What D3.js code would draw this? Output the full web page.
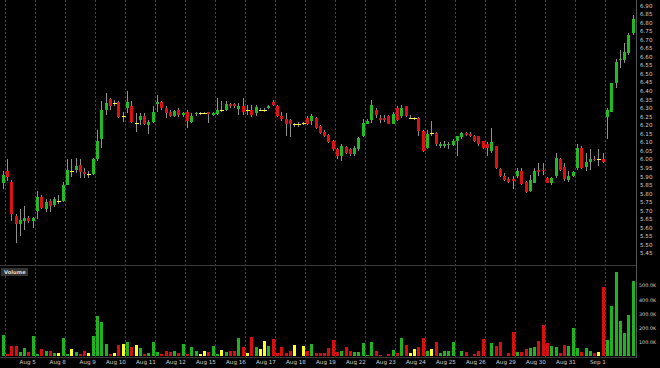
<!DOCTYPE html>
<html>
<head>
<meta charset="utf-8">
<script src="https://cdn.jsdelivr.net/npm/d3@7"></script>
<style>
  body { margin: 0; background: #000; }
  svg { display: block; }
</style>
</head>
<body>
<div id="chart"></div>
<script>
// hourly bars, 7 per session (bar 0 is the last bar of the previous session)
const opens = [5.86,5.935,5.87,5.67,5.62,5.64,5.655,5.64,5.70,5.78,5.71,5.755,5.735,5.76,5.76,5.85,5.93,5.94,5.97,5.925,
  5.915,5.915,6.00,6.12,6.29,6.355,6.33,6.335,6.255,6.30,6.315,6.215,6.23,6.255,6.20,6.22,6.325,6.335,6.30,6.28,
  6.255,6.29,6.26,6.28,6.22,6.265,6.27,6.27,6.275,6.26,6.265,6.29,6.29,6.325,6.325,6.295,6.315,6.29,6.29,6.27,
  6.29,6.29,6.30,6.335,6.31,6.255,6.235,6.23,6.205,6.21,6.215,6.245,6.225,6.245,6.195,6.16,6.145,6.11,6.06,6.02,
  6.075,6.06,6.03,6.06,6.135,6.21,6.233,6.29,6.245,6.24,6.255,6.21,6.30,6.257,6.31,6.243,6.24,6.243,6.165,6.068,
  6.155,6.155,6.08,6.08,6.085,6.083,6.106,6.13,6.155,6.15,6.14,6.135,6.106,6.09,6.05,6.077,5.945,5.905,5.883,5.885,
  5.905,5.93,5.867,5.815,5.865,5.94,5.94,5.89,5.865,5.905,6.00,5.957,5.88,5.905,5.95,6.068,5.957,5.985,6.005,6.00,
  6.005,6.25,6.28,6.447,6.58,6.58,6.62,6.738];
const highs = [5.93,6.00,5.88,5.68,5.71,5.73,5.67,5.665,5.815,5.79,5.77,5.77,5.78,5.79,5.87,6.00,6.00,6.01,6.00,5.95,
  5.93,6.01,6.17,6.34,6.39,6.36,6.35,6.34,6.28,6.40,6.34,6.27,6.27,6.27,6.23,6.31,6.38,6.34,6.31,6.29,
  6.29,6.30,6.28,6.29,6.27,6.275,6.28,6.28,6.28,6.28,6.36,6.34,6.34,6.33,6.33,6.33,6.36,6.32,6.32,6.32,
  6.30,6.30,6.32,6.35,6.32,6.28,6.27,6.235,6.215,6.22,6.22,6.255,6.265,6.25,6.20,6.17,6.15,6.115,6.07,6.09,
  6.08,6.07,6.08,6.13,6.235,6.235,6.345,6.30,6.26,6.26,6.26,6.28,6.31,6.32,6.315,6.26,6.25,6.25,6.17,6.175,
  6.225,6.16,6.10,6.11,6.105,6.12,6.14,6.16,6.16,6.16,6.145,6.14,6.11,6.10,6.185,6.08,5.95,5.92,5.895,5.905,
  5.95,5.95,5.875,5.91,5.95,5.98,5.98,5.90,5.90,6.04,6.01,5.98,5.93,5.93,6.09,6.08,6.04,6.06,6.02,6.06,
  6.04,6.30,6.45,6.59,6.64,6.68,6.74,6.845];
const lows = [5.83,5.875,5.64,5.51,5.55,5.59,5.63,5.60,5.65,5.71,5.69,5.69,5.72,5.74,5.75,5.85,5.90,5.92,5.89,5.89,
  5.89,5.91,5.99,6.07,6.26,6.29,6.31,6.245,6.22,6.27,6.215,6.16,6.20,6.20,6.15,6.215,6.28,6.29,6.24,6.25,
  6.25,6.25,6.25,6.185,6.215,6.255,6.26,6.265,6.215,6.255,6.26,6.275,6.285,6.30,6.30,6.26,6.26,6.26,6.25,6.255,
  6.285,6.28,6.295,6.315,6.25,6.225,6.135,6.13,6.19,6.19,6.20,6.20,6.20,6.18,6.15,6.13,6.095,6.05,6.00,5.99,
  6.03,6.02,6.02,6.05,6.13,6.205,6.215,6.245,6.215,6.22,6.205,6.205,6.225,6.245,6.25,6.235,6.23,6.135,6.045,6.06,
  6.135,6.08,6.07,6.07,6.06,6.08,6.02,6.12,6.14,6.13,6.10,6.08,6.06,6.02,6.04,5.945,5.90,5.875,5.86,5.83,
  5.89,5.85,5.805,5.81,5.86,5.905,5.91,5.86,5.85,5.89,5.935,5.875,5.87,5.90,5.94,5.945,5.93,5.94,5.99,5.96,
  5.98,6.12,6.275,6.42,6.535,6.565,6.61,6.73];
const closes = [5.91,5.90,5.68,5.62,5.645,5.66,5.64,5.655,5.78,5.715,5.75,5.73,5.77,5.76,5.85,5.94,5.93,5.96,5.925,5.915,
  5.915,6.00,6.11,6.29,6.33,6.315,6.33,6.25,6.255,6.335,6.22,6.215,6.255,6.205,6.22,6.275,6.335,6.30,6.27,6.255,
  6.285,6.26,6.27,6.225,6.255,6.27,6.27,6.27,6.265,6.27,6.29,6.29,6.325,6.31,6.31,6.315,6.28,6.29,6.26,6.305,
  6.29,6.29,6.315,6.32,6.255,6.235,6.205,6.205,6.205,6.21,6.215,6.205,6.255,6.185,6.155,6.14,6.10,6.06,6.02,6.08,
  6.04,6.03,6.07,6.125,6.215,6.225,6.32,6.26,6.23,6.232,6.21,6.266,6.23,6.30,6.255,6.243,6.24,6.165,6.05,6.15,
  6.155,6.09,6.09,6.09,6.09,6.106,6.135,6.155,6.145,6.135,6.107,6.09,6.07,6.07,6.10,5.95,5.905,5.88,5.87,5.875,
  5.93,5.855,5.81,5.88,5.93,5.925,5.93,5.865,5.89,6.01,5.94,5.885,5.905,5.925,6.068,5.95,5.985,6.003,5.995,6.00,
  5.985,6.29,6.447,6.573,6.59,6.63,6.73,6.82];
// volume in thousands
const volumes = [151,17,76,76,29,57,31,144,17,50,40,40,22,22,132,17,50,29,17,36,
  22,144,285,241,85,17,24,81,88,104,64,78,57,17,26,99,29,17,38,33,
  38,26,88,17,64,40,17,38,31,73,17,45,33,38,38,132,69,22,139,64,
  50,109,73,120,22,64,22,40,81,5,73,40,88,22,22,22,57,116,29,40,
  64,40,29,29,92,10,104,38,10,5,17,45,26,132,81,26,50,64,127,40,
  52,104,26,40,38,104,5,38,29,5,17,38,123,5,92,73,101,5,22,174,
  29,33,50,57,69,109,219,95,73,64,26,81,73,198,57,33,62,40,26,33,
  488,116,358,594,250,163,293,533];

const sessionLabels = ["Aug 5","Aug 8","Aug 9","Aug 10","Aug 11","Aug 12","Aug 15","Aug 16","Aug 17","Aug 18",
  "Aug 19","Aug 22","Aug 23","Aug 24","Aug 25","Aug 26","Aug 29","Aug 30","Aug 31","Sep 1"];
const priceTicks = [5.45,5.50,5.55,5.60,5.65,5.70,5.75,5.80,5.85,5.90,5.95,6.00,6.05,6.10,6.15,6.20,
  6.25,6.30,6.35,6.40,6.45,6.50,6.55,6.60,6.65,6.70,6.75,6.80,6.85,6.90];
const volumeTicks = [100,200,300,400,500];

const width = 660, height = 368;
const barsPerDay = 7;
const axisX = 636;

const svg = d3.select("#chart").append("svg")
  .attr("width", width)
  .attr("height", height)
  .style("background", "#000")
  .style("font-family", "'DejaVu Sans', Verdana, sans-serif");

const x = d3.scaleBand()
  .domain(d3.range(opens.length))
  .range([0.56, 634.9])
  .padding(0);
const cx = i => x(i) + x.bandwidth() / 2;

const y = d3.scaleLinear().domain([5.45, 6.90]).range([253.5, 5.6]);
const yv = d3.scaleLinear().domain([0, 500]).range([356.4, 285.7]);

const colorOf = i => closes[i] > opens[i] ? "#22b922" : closes[i] < opens[i] ? "#dd1111" : "#ffff44";
const volColorOf = i => closes[i] > opens[i] ? "#1fb31f" : closes[i] < opens[i] ? "#d90f0f" : "#ffff22";

// session boundaries
const bounds = d3.range(1, opens.length, barsPerDay);
const grid = svg.append("g").attr("stroke", "#474747").attr("stroke-dasharray", "2,2")
  .attr("shape-rendering", "crispEdges");
grid.selectAll("line").data(bounds).enter().append("line")
  .attr("x1", d => Math.round(x(d)) + 0.5).attr("x2", d => Math.round(x(d)) + 0.5)
  .attr("y1", 0).attr("y2", 357);

// panel frames
svg.append("line").attr("x1", 0).attr("x2", axisX).attr("y1", 265.5).attr("y2", 265.5)
  .attr("stroke", "#3a3a3a");
svg.append("line").attr("x1", 0).attr("x2", axisX).attr("y1", 357.5).attr("y2", 357.5)
  .attr("stroke", "#3a3a3a");
svg.append("line").attr("x1", axisX + 0.5).attr("x2", axisX + 0.5).attr("y1", 0).attr("y2", 358)
  .attr("stroke", "#555");

// candles
const candles = svg.append("g").attr("shape-rendering", "crispEdges");
const idx = d3.range(opens.length);
candles.selectAll("line.wick").data(idx).enter().append("line")
  .attr("class", "wick")
  .attr("x1", i => Math.round(cx(i)) + 0.5).attr("x2", i => Math.round(cx(i)) + 0.5)
  .attr("y1", i => y(highs[i])).attr("y2", i => y(lows[i]))
  .attr("stroke", "#909090");
candles.selectAll("rect.body").data(idx).enter().append("rect")
  .attr("class", "body")
  .attr("x", i => Math.round(cx(i)) - 1)
  .attr("width", i => closes[i] === opens[i] ? 4 : 3)
  .attr("y", i => y(Math.max(opens[i], closes[i])))
  .attr("height", i => Math.max(1, Math.abs(y(opens[i]) - y(closes[i]))))
  .attr("fill", colorOf);

// volume bars
svg.append("g").attr("shape-rendering", "crispEdges")
  .selectAll("rect").data(idx).enter().append("rect")
  .attr("x", i => Math.round(cx(i)) - 1.5)
  .attr("width", 3.6)
  .attr("y", i => yv(volumes[i]))
  .attr("height", i => yv(0) - yv(volumes[i]))
  .attr("fill", volColorOf);

// right price axis
const labelStyle = sel => sel.attr("fill", "#cfcfcf").attr("font-size", "5.6px");
svg.append("g").selectAll("text").data(priceTicks).enter().append("text")
  .attr("x", axisX + 4).attr("y", d => y(d)).attr("dy", "0.35em")
  .text(d => d.toFixed(2)).call(labelStyle);

svg.append("g").selectAll("text").data(volumeTicks).enter().append("text")
  .attr("x", axisX + 3).attr("y", d => yv(d)).attr("dy", "0.35em")
  .text(d => d.toFixed(1) + "K").call(labelStyle).attr("font-size", "4.9px");

// session labels
svg.append("g").selectAll("text").data(sessionLabels).enter().append("text")
  .attr("x", (d, k) => x(bounds[k + 1]) + 1)
  .attr("y", 364)
  .attr("text-anchor", "end")
  .text(d => d).call(labelStyle);

// volume panel tag
svg.append("rect").attr("x", 1).attr("y", 268).attr("width", 27).attr("height", 8).attr("fill", "#333");
svg.append("text").attr("x", 4).attr("y", 274.2).text("Volume")
  .attr("fill", "#ddd").attr("font-size", "5.2px").attr("font-weight", "bold");
</script>
</body>
</html>
